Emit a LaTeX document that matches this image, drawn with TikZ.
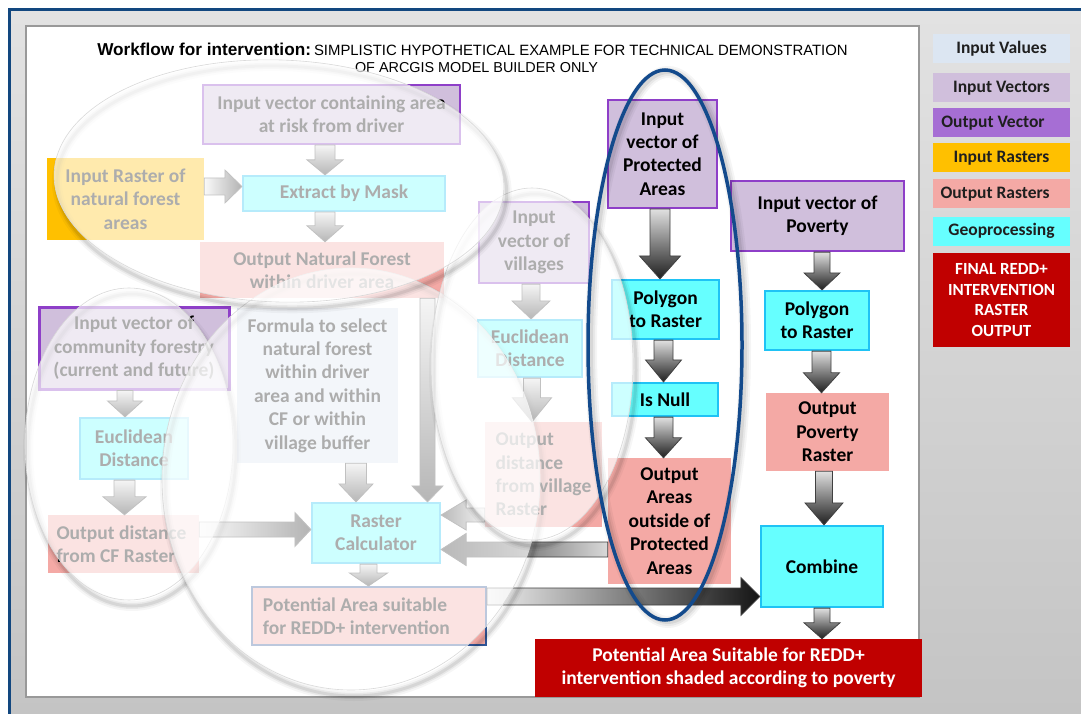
\documentclass[tikz,border=0pt]{standalone}
\usepackage{fontspec}
\setmainfont{Carlito}
\newfontfamily\arialf{Liberation Sans}
\usetikzlibrary{calc}
\definecolor{ivfill}{HTML}{D0BFDC}
\definecolor{ivborder}{HTML}{8E3FC8}
\definecolor{ovfill}{HTML}{A66ED4}
\definecolor{irfill}{HTML}{FFC000}
\definecolor{orfill}{HTML}{F4A9A5}
\definecolor{gpfill}{HTML}{66FFFF}
\definecolor{gpborder}{HTML}{1FC3F5}
\definecolor{valfill}{HTML}{DCE6F2}
\definecolor{finalred}{HTML}{C00000}
\definecolor{frameblue}{HTML}{12477F}
\definecolor{navyb}{HTML}{2F5597}
\definecolor{bgtop}{HTML}{E2E2E2}
\definecolor{bgbot}{HTML}{C4C4C4}
\definecolor{ellblue}{HTML}{134A8C}

\newcommand\arrD[6]{%
\path[barrowD] let \p1=(#2.south), \p2=(#3.north) in
 (#1pt-#4pt,\y1) -- (#1pt+#4pt,\y1) -- (#1pt+#4pt,\y2+#6pt) -- (#1pt+#5pt,\y2+#6pt) -- (#1pt,\y2) -- (#1pt-#5pt,\y2+#6pt) -- (#1pt-#4pt,\y2+#6pt) -- cycle;}
\newcommand\arrR[6]{%
\path[barrowR] let \p1=(#2.east), \p2=(#3.west) in
 (\x1,-#1pt+#4pt) -- (\x2-#6pt,-#1pt+#4pt) -- (\x2-#6pt,-#1pt+#5pt) -- (\x2,-#1pt) -- (\x2-#6pt,-#1pt-#5pt) -- (\x2-#6pt,-#1pt-#4pt) -- (\x1,-#1pt-#4pt) -- cycle;}
\newcommand\arrL[6]{%
\path[barrowL] let \p1=(#2.west), \p2=(#3.east) in
 (\x1,-#1pt+#4pt) -- (\x2+#6pt,-#1pt+#4pt) -- (\x2+#6pt,-#1pt+#5pt) -- (\x2,-#1pt) -- (\x2+#6pt,-#1pt-#5pt) -- (\x2+#6pt,-#1pt-#4pt) -- (\x1,-#1pt-#4pt) -- cycle;}
\newcommand\hazy[5]{%
\begin{scope}[shift={(#1,#2)}, rotate=#5]
\foreach \w/\o in {10/0.035, 6/0.055, 3/0.075}
  \draw[black, opacity=\o, line width=\w] (3,6) ellipse [x radius=#3, y radius=#4];
\fill[white, opacity=0.68] (0,0) ellipse [x radius=#3, y radius=#4];
\draw[black!15, line width=0.6] (0,0) ellipse [x radius=#3, y radius=#4];
\end{scope}}

\begin{document}
\begin{tikzpicture}[x=1pt,y=-1pt,
  box/.style={rectangle, inner sep=0pt, align=center, font=\fontsize{19.5}{23.4}\selectfont\bfseries, text=black},
  ivec/.style={box, fill=ivfill, draw=ivborder, line width=2.2pt},
  geo/.style={box, fill=gpfill, draw=gpborder, line width=2.2pt},
  orast/.style={box, fill=orfill},
  irast/.style={box, fill=irfill},
  ival/.style={box, fill=valfill},
  fin/.style={box, fill=finalred, text=white},
  leg/.style={rectangle, inner sep=0pt, minimum width=137, minimum height=29, font=\fontsize{17.5}{21}\selectfont\bfseries, text=black!88},
  barrowD/.style={draw=black!75, line width=0.8pt, top color=black!12, bottom color=black!88},
  barrowR/.style={draw=black!75, line width=0.8pt, left color=black!6, right color=black!92},
  barrowL/.style={draw=black!75, line width=0.8pt, left color=black!85, right color=black!15}]
\useasboundingbox (0,0) rectangle (1081,714);
\fill[white] (0,0) rectangle (1081,714);
\shade[top color=bgtop, bottom color=bgbot] (11,11.5) rectangle (1081,714);
\fill[frameblue] (7.5,8) rectangle (1081,11.5);
\fill[frameblue] (7.5,8) rectangle (11,714);
\fill[white, draw=black!40, line width=1.5] (26,26) rectangle (919,697);

% title
\node[anchor=base, inner sep=0] (title1) at (472.5,55.5) {{\arialf\fontsize{17.2}{20}\selectfont\bfseries Workflow for intervention:} {\arialf\fontsize{14.9}{17}\selectfont SIMPLISTIC HYPOTHETICAL EXAMPLE FOR TECHNICAL DEMONSTRATION}};
\node[anchor=base, inner sep=0] (title2) at (476.5,72.5) {\arialf\fontsize{14.4}{17}\selectfont OF ARCGIS MODEL BUILDER ONLY};

% boxes
\node[ivec, minimum width=257, minimum height=59] (area) at (331.5,114.5) {Input vector containing area\\at risk from driver};
\node[irast, minimum width=157, minimum height=82] (raster) at (125.5,199) {Input Raster of\\natural forest\\areas};
\node[geo, minimum width=202, minimum height=35] (extract) at (344,193.5) {Extract by Mask};
\node[orast, minimum width=244, minimum height=56] (outnf) at (322,270) {Output Natural Forest\\within driver area};
\node[ivec, minimum width=110, minimum height=81] (villages) at (534,242.5) {Input\\vector of\\villages};
\node[geo, minimum width=104, minimum height=57] (eucv) at (530,348.5) {Euclidean\\Distance};
\node[orast, minimum width=117, minimum height=105, align=left] (outv) at (543.5,474.5) {Output\\distance\\from village\\Raster};
\node[ivec, line width=3pt, minimum width=190, minimum height=82] (cf) at (134,348) {Input vector of\\community forestry\\(current and future)};
\node[geo, minimum width=108, minimum height=61] (eucf) at (134,448.5) {Euclidean\\Distance};
\node[orast, minimum width=151, minimum height=58, align=left] (outcf) at (123.5,544) {Output distance\hspace*{4pt}\\from CF Raster};
\node[ival, minimum width=161, minimum height=155] (formula) at (317.5,385.5) {Formula to select\\natural forest\\within driver\\area and within\\CF or within\\village buffer};
\node[geo, minimum width=128, minimum height=60] (rc) at (376,533) {Raster\\Calculator};
\node[orast, draw=navyb, line width=2pt, minimum width=234, minimum height=58, align=left] (pot) at (369,616) {Potential Area suitable\hspace*{28pt}\\for REDD+ intervention};
\node[ivec, minimum width=109, minimum height=108] (pa) at (662.5,154) {Input\\vector of\\Protected\\Areas};
\node[geo, minimum width=107, minimum height=59] (ptr1) at (665.5,309.5) {Polygon\\to Raster};
\node[geo, minimum width=106, minimum height=33] (isnull) at (665,399.5) {Is Null};
\node[orast, minimum width=123, minimum height=126] (outpa) at (669.5,521) {Output\\Areas\\outside of\\Protected\\Areas};
\node[ivec, minimum width=173, minimum height=70] (pov) at (817.5,216) {Input vector of\\Poverty};
\node[geo, minimum width=104, minimum height=59] (ptr2) at (817,320.5) {Polygon\\to Raster};
\node[orast, minimum width=123, minimum height=78] (opr) at (827.5,432) {Output\\Poverty\\Raster};
\node[geo, minimum width=122, minimum height=81] (combine) at (822,566.5) {Combine};
\node[fin, minimum width=387, minimum height=58] (final) at (728.5,668) {Potential Area Suitable for REDD+\\intervention shaded according to poverty};

% arrows
\arrD{325}{area}{extract}{10}{18}{15}
\arrR{186.5}{raster}{extract}{8.5}{16.5}{17}
\arrD{325}{extract}{outnf}{10}{18}{16}
\arrD{427.5}{outnf}{rc}{7.5}{15.5}{16}
\arrD{531}{villages}{eucv}{9}{19}{18}
\arrD{532}{eucv}{outv}{8.5}{19.5}{24}
\arrL{515}{outv}{rc}{7}{15}{25}
\arrL{549.5}{outpa}{rc}{7.5}{16}{25}
\arrD{125}{cf}{eucf}{8}{17.5}{16}
\arrD{124.5}{eucf}{outcf}{10.5}{21.5}{18}
\arrR{529.5}{outcf}{rc}{7.5}{17}{16}
\arrD{356}{formula}{rc}{10.5}{17}{18}
\arrD{368.5}{rc}{pot}{8.5}{19}{13}
\arrR{596.5}{pot}{combine}{8.5}{19}{19}
\arrD{660}{pa}{ptr1}{10}{20.5}{23}
\arrD{663.5}{ptr1}{isnull}{9.5}{18}{22}
\arrD{663.5}{isnull}{outpa}{9.5}{18}{20}
\arrD{822}{pov}{ptr2}{8}{18}{17}
\arrD{821.5}{ptr2}{opr}{9.5}{18}{20}
\arrD{824}{opr}{combine}{8.5}{19}{22}
\arrD{822}{combine}{final}{8}{18}{16}

% hazy ellipses
\hazy{129}{444}{104}{156}{0}
\hazy{351}{479}{189}{211}{0}
\hazy{532}{364}{101}{176}{0}
\hazy{279}{181}{225}{121}{-2}

% blue ellipse
\foreach \w/\o in {12/0.04, 8/0.05, 4/0.07}
  \draw[black, opacity=\o, line width=\w] (668,347) ellipse [x radius=77, y radius=275];
\draw[ellblue, line width=3.5] (665,345) ellipse [x radius=77, y radius=275];

% legend
\node[leg, fill=valfill] (lgval) at (1001.5,49) {Input Values};
\node[leg, fill=ivfill] (lgiv) at (1001.5,88) {Input Vectors};
\node[leg, fill=ovfill] (lgov) at (1001.5,123) {\hspace*{-17pt}Output Vector};
\node[leg, fill=irfill] (lgir) at (1001.5,158) {Input Rasters};
\node[leg, fill=orfill] (lgor) at (1001.5,194) {\hspace*{-13pt}Output Rasters};
\node[leg, fill=gpfill] (lggp) at (1001.5,231) {Geoprocessing};
\node[leg, fill=finalred, text=white, minimum height=94, align=center, font=\fontsize{17}{20.5}\selectfont\bfseries] (lgfin) at (1001.5,300) {FINAL REDD+\\INTERVENTION\\RASTER\\OUTPUT};
\end{tikzpicture}
\end{document}
